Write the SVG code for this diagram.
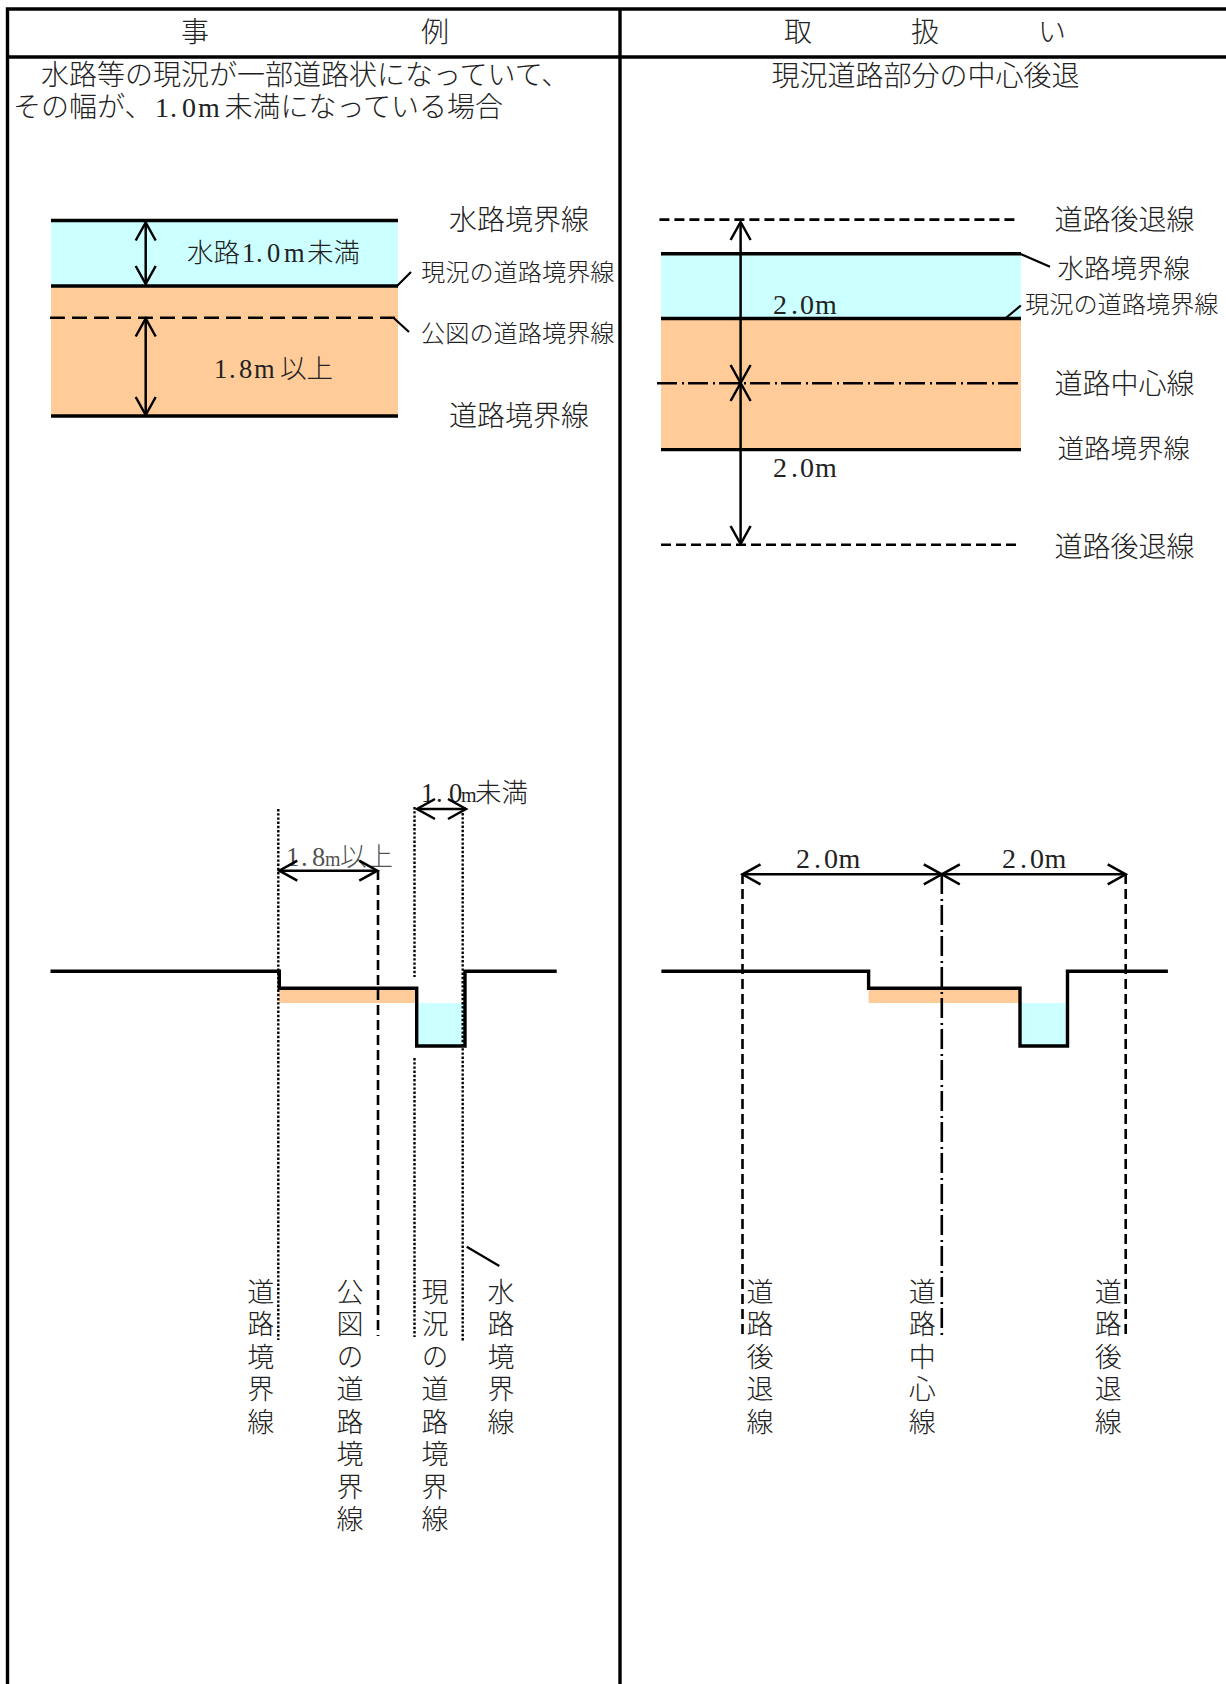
<svg xmlns="http://www.w3.org/2000/svg" width="1226" height="1684" viewBox="0 0 1226 1684">
<style>
text{font-family:"Noto Sans CJK JP","Liberation Serif",sans-serif;fill:#222;font-weight:300}
.l{font-family:"Liberation Serif",serif}
.n{font-family:"Liberation Serif",serif;font-size:20px}
.f28{font-size:28px}.f26{font-size:26.5px}.f24{font-size:24.2px}
.v{font-size:27px;writing-mode:vertical-rl;letter-spacing:5.5px}
.s{fill:none;stroke:#000;stroke-width:3.4}
.thin{fill:none;stroke:#000;stroke-width:2.2}
.a{fill:none;stroke:#000;stroke-width:2.5;marker-start:url(#o);marker-end:url(#o)}
.dot{fill:none;stroke:#000;stroke-width:2.4;stroke-dasharray:2.4 1.8}
.dash{fill:none;stroke:#000;stroke-width:2.6;stroke-dasharray:10 5}
.ddash{fill:none;stroke:#000;stroke-width:2.6;stroke-dasharray:15 7}
.dd{fill:none;stroke:#000;stroke-width:2.6;stroke-dasharray:20 5 2 4}
.w{fill:#CCFFFF}.r{fill:#FFCC99}
</style>
<defs>
<marker id="o" markerUnits="userSpaceOnUse" viewBox="-20 -12 23 24" refX="0" refY="0" markerWidth="23" markerHeight="24" orient="auto-start-reverse" overflow="visible">
<path d="M-18,-10L0,0L-18,10" fill="none" stroke="#000" stroke-width="2.5"/>
</marker>
</defs>

<g id="frame">
<path class="s" d="M7.5,1684V9H1226M7,57H1226M620,9V1684"/>
</g>

<g id="headers">
<text class="f28" x="181 421" y="41.5">事例</text>
<text class="f28" x="784 911 1038" y="41.5">取扱い</text>
<text class="f28" x="41" y="84.5">水路等の現況が一部道路状になっていて、</text>
<text class="f28" y="117"><tspan x="13">その幅が、</tspan><tspan class="l" x="155 170 182 198">1.0m</tspan><tspan x="224.5">未満になっている場合</tspan></text>
<text class="f28" x="771.5" y="85.5">現況道路部分の中心後退</text>
</g>

<g id="plan-left">
<rect class="w" x="51" y="220" width="347" height="66"/>
<rect class="r" x="51" y="286" width="347" height="130"/>
<path class="s" d="M51,220.5H398M51,286H398M51,416H398"/>
<path class="ddash" d="M50,317.7H398"/>
<text class="f26" y="262"><tspan x="187">水路</tspan><tspan class="l" x="242 256 267 284">1.0m</tspan><tspan x="307">未満</tspan></text>
<text class="f26" y="378"><tspan class="l" x="214 229 239 254">1.8m</tspan><tspan x="280">以上</tspan></text>
<text class="f28" x="449" y="230">水路境界線</text>
<text class="f24" x="421" y="280.5">現況の道路境界線</text>
<text class="f24" x="421" y="341.5">公図の道路境界線</text>
<text class="f28" x="449" y="426">道路境界線</text>
</g>

<g id="plan-right">
<rect class="w" x="661" y="254" width="360" height="65"/>
<rect class="r" x="661" y="319" width="360" height="131"/>
<path class="s" d="M661,253.7H1021M661,318.5H1021M661,449.6H1021"/>
<path class="dash" d="M659.4,219.6H1019.4M661,544.8H1021"/>
<path class="dd" d="M657,383.3H1021"/>
<text class="f28" y="313.5" x="773 791 800 815"><tspan class="l">2.0m</tspan></text>
<text class="f28" y="476.5" x="773 791 800 815"><tspan class="l">2.0m</tspan></text>
<text class="f28" x="1054.5" y="230">道路後退線</text>
<text class="f26" x="1057.5" y="277.5">水路境界線</text>
<text class="f24" x="1025" y="313">現況の道路境界線</text>
<text class="f28" x="1054.5" y="393.5">道路中心線</text>
<text class="f26" x="1057.5" y="458">道路境界線</text>
<text class="f28" x="1054.5" y="557">道路後退線</text>
</g>

<g id="section-left">
<rect class="r" x="279" y="988" width="136" height="15"/>
<rect class="w" x="417" y="1003" width="48" height="43"/>
<path class="dot" d="M278.3,809V1340M414.5,807V977M414.5,1058V1337M462.7,813V1341"/>
<path class="dash" d="M378,870V1336"/>
<path class="s" d="M50.5,971.3H279.3V988.3H416.7V1046H465V971.3H556.7"/>
<text class="f26" y="865.5" fill-opacity=".8"><tspan class="l" x="286 301 312">1.8</tspan><tspan class="n" x="325">m</tspan><tspan x="340">以上</tspan></text>
<text class="f26" y="801.5"><tspan class="l" x="421 436 449">1.0</tspan><tspan class="n" x="461">m</tspan><tspan x="475">未満</tspan></text>
<text class="v" x="260.7" y="1278">道路境界線</text>
<text class="v" x="350" y="1278">公図の道路境界線</text>
<text class="v" x="435" y="1278">現況の道路境界線</text>
<text class="v" x="501" y="1278">水路境界線</text>
</g>

<g id="section-right">
<rect class="r" x="868.6" y="988" width="150.4" height="15"/>
<rect class="w" x="1020" y="1003" width="47" height="43"/>
<path class="dash" d="M742.5,874V1335M1125.7,874V1338"/>
<path class="dd" d="M941.8,874V1337"/>
<path class="s" d="M661.4,971.3H868.6V988.3H1020V1046H1067.5V971.3H1167.9"/>
<text class="f28" y="868" x="796 814 824 838.5"><tspan class="l">2.0m</tspan></text>
<text class="f28" y="868" x="1002 1020 1030 1044.5"><tspan class="l">2.0m</tspan></text>
<text class="v" x="760" y="1278">道路後退線</text>
<text class="v" x="922.3" y="1278">道路中心線</text>
<text class="v" x="1108.3" y="1278">道路後退線</text>
</g>

<g id="connectors">
<path class="a" d="M145.7,222.5V284"/>
<path class="a" d="M145.7,318.5V415"/>
<path class="thin" d="M397,286L411,272M394,318.3L409,332"/>
<path class="a" d="M740.6,222V383"/>
<path class="a" d="M740.6,383V544"/>
<path class="thin" d="M1020,253.7L1050,266.7M1005.8,318L1020.8,305.5"/>
<path class="a" d="M279.3,870.7H377.3"/>
<path class="a" d="M417,809H466"/>
<path class="thin" d="M466.7,1246.7L499.3,1266"/>
<path class="a" d="M742.5,874.3H941.8"/>
<path class="a" d="M941.8,874.3H1125.7"/>
</g>
</svg>
